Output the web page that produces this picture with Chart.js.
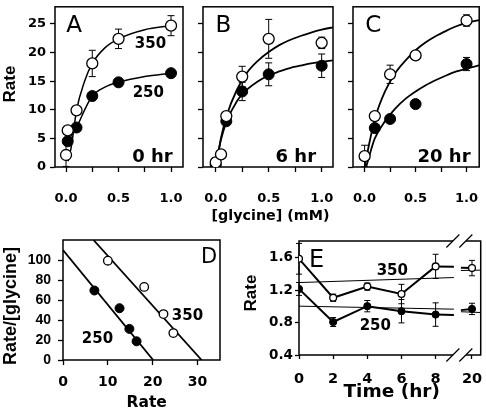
<!DOCTYPE html>
<html>
<head>
<meta charset="utf-8">
<script src="https://cdn.jsdelivr.net/npm/chart.js@4.4.0/dist/chart.umd.min.js"></script>
<style>
  html, body { margin: 0; padding: 0; background: #fff; }
  #wrap { position: relative; width: 486px; height: 413px; overflow: hidden; }
  canvas { position: absolute; left: 0; top: 0; }
</style>
</head>
<body>
<div id="wrap">
  <canvas id="cA" width="486" height="413"></canvas>
  <canvas id="cB" width="486" height="413"></canvas>
  <canvas id="cC" width="486" height="413"></canvas>
  <canvas id="cD" width="486" height="413"></canvas>
  <canvas id="cE" width="486" height="413"></canvas>
</div>
<script>
// ---- data ----
// A-C: rate vs [glycine] (mM); open circles = 350, filled = 250
const glyA350 = [0, 0.016, 0.1, 0.25, 0.5, 1.0];
const rateA350 = [2.1, 6.4, 9.9, 18.1, 22.4, 24.7];
const errA350 = [2.0, 0, 0, 2.3, 1.7, 1.75];
const glyA250 = [0.016, 0.1, 0.25, 0.5, 1.0];
const rateA250 = [4.5, 6.9, 12.4, 14.8, 16.4];
const errA250 = [0, 0, 0, 0, 0];

const curveA350x = [0.02, 0.05, 0.1, 0.175, 0.25, 0.375, 0.5, 0.75, 1.0];
const curveA350 = [1.0, 3.5, 9.9, 14.9, 18.1, 20.9, 22.4, 24.0, 24.7];
const curveA250x = [0.016, 0.05, 0.1, 0.175, 0.25, 0.375, 0.5, 0.75, 1.0];
const curveA250 = [4.5, 5.5, 6.9, 9.9, 12.4, 14.0, 14.8, 15.8, 16.4];

const glyB350 = [0, 0.05, 0.1, 0.25, 0.5, 1.0];
const rateB350 = [0.8, 2.2, 8.9, 15.8, 22.4, 21.7];
const errB350 = [0.8, 0, 0, 1.8, 3.4, 1.0];
const glyB250 = [0, 0.1, 0.25, 0.5, 1.0];
const rateB250 = [0.4, 8.0, 13.2, 16.2, 17.7];
const errB250 = [0, 0, 1.6, 2.0, 2.05];

const glyC350 = [0, 0.1, 0.25, 0.5, 1.0];
const rateC350 = [1.9, 8.9, 16.2, 19.5, 25.6];
const errC350 = [1.9, 0, 1.6, 0, 1.0];
const glyC250 = [0.1, 0.25, 0.5, 1.0];
const rateC250 = [6.8, 8.4, 11.0, 18.0];
const errC250 = [0, 0, 0, 1.15];

// fitted curves in B and C
const fitX = [0, 0.05, 0.1, 0.2, 0.3, 0.4, 0.5, 0.6, 0.7, 0.8, 0.9, 1.0, 1.13];
const fitB350 = [0, 5.1, 8.8, 13.5, 16.6, 18.6, 20.1, 21.3, 22.2, 22.9, 23.5, 24.0, 24.5];
const fitB250 = [0, 4.8, 7.8, 11.5, 13.6, 15.0, 16.0, 16.7, 17.3, 17.7, 18.1, 18.4, 18.7];
const fitC350 = [0, 4.5, 8.4, 13.2, 16.4, 18.6, 20.4, 21.8, 22.9, 23.8, 24.6, 25.2, 25.7];
const fitC250 = [-1.0, 2.2, 5.0, 8.0, 10.2, 11.9, 13.2, 14.3, 15.2, 16.0, 16.7, 17.2, 17.8];

// D: rate/[glycine] vs rate
const rateD350 = [10.0, 18.1, 22.4, 24.6];
const ratioD350 = [99.3, 73.1, 45.9, 26.9];
const rateD250 = [7.0, 12.6, 14.8, 16.4];
const ratioD250 = [69.5, 51.8, 31.1, 18.7];
const lineD350x = [6.8, 30.9];
const lineD350y = [120, 0];
const lineD250x = [0, 20.1];
const lineD250y = [110, 0];

// E: rate vs time (hr), axis broken between 8 and 20
const timeTicks = [0, 2, 4, 6, 8, 20];
const timeE = [0, 2, 4, 6, 8, 20];
const rateE350 = [1.59, 1.108, 1.246, 1.154, 1.496, 1.475];
const errE350 = [0.19, 0.045, 0.045, 0.12, 0.15, 0.095];
const rateE250 = [1.217, 0.808, 1.004, 0.942, 0.90, 0.97];
const errE250 = [0.08, 0.055, 0.07, 0.145, 0.145, 0.07];
// line pieces either side of the break (axis units)
const tailE350x = [8, 9.07], tailE350 = [1.496, 1.49];
const headE350x = [9.48, 10.13], headE350 = [1.48, 1.475];
const tailE250x = [8, 9.07], tailE250 = [0.90, 0.895];
const headE250x = [9.48, 10.13], headE250 = [0.955, 0.97];
const thinE350x = [0, 9.07], thinE350 = [1.296, 1.358];
const thinE350bx = [9.48, 10.7], thinE350b = [1.445, 1.45];
const thinE250x = [0, 9.07], thinE250 = [1.004, 0.967];
const thinE250bx = [9.48, 10.7], thinE250b = [0.935, 0.925];

const t20 = 10.13; // where 20 hr sits past the break
const axisTime = t => (t > 9 ? t20 : t);

// ---- helpers ----
const BLACK = '#000';
const DJ = 'DejaVu Sans';
const LIB = 'Liberation Sans';

Chart.defaults.animation = false;
Chart.defaults.responsive = false;
Chart.defaults.color = BLACK;
Chart.defaults.plugins.legend.display = false;
Chart.defaults.plugins.tooltip.enabled = false;

function pts(xs, ys) { return xs.map((x, i) => ({ x: x, y: ys[i] })); }

function axis(o) {
  return {
    type: 'linear', min: o.min, max: o.max,
    afterBuildTicks: s => { s.ticks = o.ticks.map(v => ({ value: v })); },
    afterFit: s => {
      if (s.isHorizontal()) s.height = o.size; else s.width = o.size;
      s.paddingLeft = s.paddingRight = s.paddingTop = s.paddingBottom = 0;
    },
    grid: { drawOnChartArea: false, drawTicks: true, tickLength: o.tick || 5, tickWidth: 1.3, tickColor: BLACK },
    border: { display: false },
    ticks: { font: o.font, padding: o.pad, color: BLACK, autoSkip: false, maxRotation: 0, minRotation: 0, callback: o.label }
  };
}

function pad(f, w, h) {
  return { left: f.l - w, right: 486 - f.r, top: f.t, bottom: 413 - f.b - h };
}

const openPts = (data, errs, r) => ({
  data: data, errors: errs, showLine: false, pointRadius: r, pointBackgroundColor: '#fff',
  pointBorderColor: BLACK, pointBorderWidth: 1.3, order: 1
});
const filledPts = (data, errs, r) => ({
  data: data, errors: errs, showLine: false, pointRadius: r, pointBackgroundColor: BLACK,
  pointBorderColor: BLACK, pointBorderWidth: 1, order: 2
});
const line = (data, w, smooth) => ({
  data: data, showLine: true, pointRadius: 0, borderColor: BLACK, borderWidth: w,
  tension: smooth ? 0.4 : 0, cubicInterpolationMode: smooth ? 'monotone' : 'default', order: 3
});

const framePlugin = {
  id: 'frame',
  beforeDatasetsDraw(chart, args, opts) {
    const { left, top, right, bottom } = chart.chartArea;
    const ctx = chart.ctx;
    ctx.save();
    ctx.strokeStyle = BLACK;
    ctx.lineWidth = 1.5;
    ctx.strokeRect(left, top, right - left, bottom - top);
    if (opts.breaks) {
      const xs = opts.breaks.map(v => chart.scales.x.getPixelForValue(v));
      const d = opts.half;
      [top, bottom].forEach(y => {
        ctx.fillStyle = '#fff';
        ctx.beginPath();
        ctx.moveTo(xs[0] - d, y + d); ctx.lineTo(xs[0] + d, y - d);
        ctx.lineTo(xs[1] + d, y - d); ctx.lineTo(xs[1] - d, y + d);
        ctx.closePath(); ctx.fill();
        ctx.lineWidth = 1.2;
        ctx.beginPath();
        xs.forEach(x => { ctx.moveTo(x - d, y + d); ctx.lineTo(x + d, y - d); });
        ctx.stroke();
      });
    }
    ctx.restore();
  }
};

const errorBarPlugin = {
  id: 'errorBars',
  beforeDatasetsDraw(chart, args, opts) {
    const ctx = chart.ctx, ys = chart.scales.y, ca = chart.chartArea;
    ctx.save();
    ctx.beginPath();
    ctx.rect(ca.left - 8, ca.top, ca.right - ca.left + 16, ca.bottom - ca.top);
    ctx.clip();
    ctx.strokeStyle = BLACK;
    ctx.lineWidth = 1;
    chart.data.datasets.forEach((ds, di) => {
      if (!ds.errors) return;
      chart.getDatasetMeta(di).data.forEach((el, i) => {
        const e = ds.errors[i];
        if (!e) return;
        const v = ds.data[i].y, c = opts.cap;
        const yt = ys.getPixelForValue(v + e), yb = ys.getPixelForValue(v - e);
        ctx.beginPath();
        ctx.moveTo(el.x, yt); ctx.lineTo(el.x, yb);
        ctx.moveTo(el.x - c, yt); ctx.lineTo(el.x + c, yt);
        ctx.moveTo(el.x - c, yb); ctx.lineTo(el.x + c, yb);
        ctx.stroke();
      });
    });
    ctx.restore();
  }
};

const textPlugin = {
  id: 'texts',
  afterDraw(chart, args, opts) {
    const ctx = chart.ctx;
    (opts.items || []).forEach(t => {
      ctx.save();
      ctx.font = t.font;
      ctx.fillStyle = BLACK;
      ctx.textAlign = 'center';
      ctx.textBaseline = 'alphabetic';
      ctx.translate(t.x, t.y);
      if (t.rot) ctx.rotate(t.rot);
      ctx.fillText(t.text, 0, 0);
      ctx.restore();
    });
  }
};

const plugins = [framePlugin, errorBarPlugin, textPlugin];

const tickFont = { family: DJ, size: 13, weight: 'bold' };
const glyTicks = [0, 0.25, 0.5, 0.75, 1.0];
const glyLabel = v => ([0, 0.5, 1].includes(v) ? v.toFixed(1) : '');
const rateTicks = [0, 5, 10, 15, 20, 25];

function kineticPanel(id, frame, xmin, xmax, datasets, showY, texts) {
  const W = showY ? 40 : 20, H = 40;
  new Chart(document.getElementById(id), {
    type: 'scatter',
    data: { datasets: datasets },
    options: {
      layout: { padding: pad(frame, W, H) },
      scales: {
        x: axis({ min: xmin, max: xmax, ticks: glyTicks, size: H, font: tickFont, pad: 19, label: glyLabel }),
        y: axis({ min: 0, max: 28, ticks: rateTicks, size: W, font: tickFont, pad: 4,
                  label: v => (showY ? String(v) : '') })
      },
      plugins: { errorBars: { cap: 3.5 }, frame: {}, texts: { items: texts } }
    },
    plugins: plugins
  });
}

const lab = (size) => `bold ${size}px "${DJ}"`;
const letter = (size) => `${size}px "${DJ}"`;

kineticPanel('cA', { l: 55, t: 4, r: 183, b: 167 }, -0.105, 1.114, [
  openPts(pts(glyA350, rateA350), errA350, 5.5),
  filledPts(pts(glyA250, rateA250), errA250, 5.5),
  line(pts(curveA350x, curveA350), 1.5, true),
  line(pts(curveA250x, curveA250), 1.5, true)
], true, [
  { text: 'A', x: 74, y: 31.7, font: letter(23) },
  { text: '350', x: 150.5, y: 48.3, font: lab(15) },
  { text: '250', x: 148.3, y: 96.7, font: lab(15) },
  { text: '0 hr', x: 152.5, y: 161.7, font: lab(18) },
  { text: 'Rate', x: 15, y: 84, rot: -Math.PI / 2, font: `bold 17px "${LIB}"` },
  { text: '[glycine] (mM)', x: 270.5, y: 220, font: lab(14.3) }
]);

kineticPanel('cB', { l: 203, t: 4, r: 333, b: 167 }, -0.12, 1.107, [
  openPts(pts(glyB350, rateB350), errB350, 5.5),
  filledPts(pts(glyB250, rateB250), errB250, 5.5),
  line(pts(fitX, fitB350), 1.8, true),
  line(pts(fitX, fitB250), 1.8, true)
], false, [
  { text: 'B', x: 223.3, y: 31.7, font: letter(23) },
  { text: '6 hr', x: 295.8, y: 161.7, font: lab(18) }
]);

kineticPanel('cC', { l: 353, t: 4, r: 483, b: 167 }, -0.114, 1.124, [
  openPts(pts(glyC350, rateC350), errC350, 5.5),
  filledPts(pts(glyC250, rateC250), errC250, 5.5),
  line(pts(fitX, fitC350), 1.8, true),
  line(pts(fitX, fitC250), 1.8, true)
], false, [
  { text: 'C', x: 373.3, y: 31.7, font: letter(23) },
  { text: '20 hr', x: 444, y: 161.7, font: lab(18) }
]);

// D
(function () {
  const f = { l: 63, t: 240, r: 220, b: 360 }, W = 45, H = 28;
  new Chart(document.getElementById('cD'), {
    type: 'scatter',
    data: { datasets: [
      openPts(pts(rateD350, ratioD350), null, 4.3),
      filledPts(pts(rateD250, ratioD250), null, 4.5),
      line(pts(lineD350x, lineD350y), 1.8, false),
      line(pts(lineD250x, lineD250y), 1.8, false)
    ] },
    options: {
      layout: { padding: pad(f, W, H) },
      scales: {
        x: axis({ min: 0, max: 35, ticks: [0, 10, 20, 30], size: H, font: { family: DJ, size: 14, weight: 'bold' }, pad: 9, label: v => String(v) }),
        y: axis({ min: 0, max: 120, ticks: [0, 20, 40, 60, 80, 100], size: W, font: { family: LIB, size: 14, weight: 'bold' }, pad: 7, label: v => String(v) })
      },
      plugins: { errorBars: { cap: 3 }, frame: {}, texts: { items: [
        { text: 'D', x: 209, y: 263.3, font: letter(21) },
        { text: '350', x: 187.5, y: 320, font: lab(15) },
        { text: '250', x: 97.5, y: 343.3, font: lab(15) },
        { text: 'Rate', x: 146.7, y: 406.7, font: lab(15.5) },
        { text: 'Rate/[glycine]', x: 16, y: 306, rot: -Math.PI / 2, font: `bold 18px "${LIB}"` }
      ] } }
    },
    plugins: plugins
  });
})();

// E
(function () {
  const f = { l: 299, t: 241, r: 482, b: 355 }, W = 40, H = 28;
  const tx = timeE.map(axisTime);
  const e350 = openPts(pts(tx, rateE350), errE350, 3.4);
  const e250 = filledPts(pts(tx, rateE250), errE250, 3.6);
  new Chart(document.getElementById('cE'), {
    type: 'scatter',
    data: { datasets: [
      e350, e250,
      line(pts(timeE.slice(0, 5), rateE350.slice(0, 5)), 2, false),
      line(pts(timeE.slice(0, 5), rateE250.slice(0, 5)), 2, false),
      line(pts(tailE350x, tailE350), 2, false),
      line(pts(headE350x, headE350), 2, false),
      line(pts(tailE250x, tailE250), 2, false),
      line(pts(headE250x, headE250), 2, false),
      line(pts(thinE350x, thinE350), 1, false),
      line(pts(thinE350bx, thinE350b), 1, false),
      line(pts(thinE250x, thinE250), 1, false),
      line(pts(thinE250bx, thinE250b), 1, false)
    ] },
    options: {
      layout: { padding: pad(f, W, H) },
      scales: {
        x: axis({ min: 0, max: 10.64, ticks: timeTicks.map(axisTime), size: H, tick: 4,
                  font: { family: DJ, size: 14.5, weight: 'bold' }, pad: 12,
                  label: (v, i) => String(timeTicks[i]) }),
        y: axis({ min: 0.4, max: 1.81, ticks: [0.4, 0.8, 1.2, 1.6], size: W, tick: 4,
                  font: { family: DJ, size: 13.5, weight: 'bold' }, pad: 2, label: v => v.toFixed(1) })
      },
      plugins: { errorBars: { cap: 3 }, frame: { breaks: [9.01, 9.77], half: 6.5 }, texts: { items: [
        { text: 'E', x: 316.7, y: 266.7, font: letter(24) },
        { text: '350', x: 392.3, y: 275, font: lab(15) },
        { text: '250', x: 375.3, y: 330, font: lab(15) },
        { text: 'Time (hr)', x: 391.7, y: 396.5, font: lab(18.5) },
        { text: 'Rate', x: 256, y: 293, rot: -Math.PI / 2, font: `bold 17px "${LIB}"` }
      ] } }
    },
    plugins: plugins
  });
})();
</script>
</body>
</html>
